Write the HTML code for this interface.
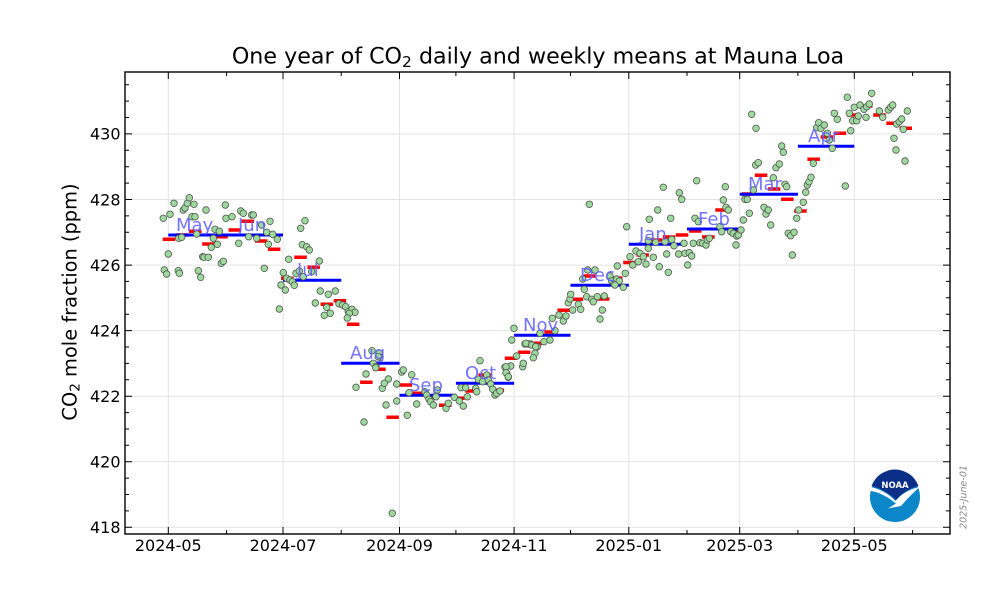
<!DOCTYPE html>
<html><head><meta charset="utf-8"><style>
html,body{margin:0;padding:0;background:#fff;}
svg{display:block;font-family:"DejaVu Sans","Liberation Sans",sans-serif;}
</style></head><body>
<svg width="1000" height="600" viewBox="0 0 1000 600" xmlns="http://www.w3.org/2000/svg">
<rect width="1000" height="600" fill="#fff"/>
<!-- grid -->
<g stroke="#e3e3e3" stroke-width="1">
<path d="M168.3,72V534M283,72V534M399.5,72V534M514.1,72V534M628.8,72V534M739.7,72V534M854.3,72V534"/>
<path d="M125,527.3H950M125,461.7H950M125,396.2H950M125,330.6H950M125,265.1H950M125,199.5H950M125,133.9H950"/>
</g>
<!-- weekly red -->
<g stroke="#ff0000" stroke-width="3.5">
<path d="M162.7,239.3h12.5M175.9,235h12.5M189,231.3h12.5M202.2,244h12.5M215.3,236.7h12.5M228.5,230h12.5M241.6,221.3h12.5M254.8,241h12.5M267.9,249.3h12.5M281.1,278.3h12.5M294.3,257.3h12.5M307.4,267.3h12.5M320.6,304.3h12.5M333.7,300.7h12.5M346.9,324.3h12.5M360.1,382.3h12.5M373.2,369.3h12.5M386.4,417.3h12.5M399.5,385h12.5M412.7,393.3h12.5M425.8,397.5h12.5M439,405.3h12.5M452.2,398.3h12.5M465.3,391h12.5M478.5,375h12.5M491.6,390.3h12.5M504.8,358.3h12.5M517.9,352.3h12.5M531.1,343.3h12.5M544.3,332h12.5M557.4,310.3h12.5M570.6,299.3h12.5M583.7,276h12.5M596.9,299h12.5M610,278h12.5M623.2,262.5h12.5M636.4,255h12.5M649.5,240h12.5M662.7,237h12.5M675.8,235h12.5M689,231h12.5M702.1,237h12.5M715.3,210h12.5M728.5,232h12.5M741.6,194h12.5M754.8,175.3h12.5M767.9,189h12.5M781.1,199.3h12.5M794.2,211h12.5M807.4,159.3h12.5M820.6,137h12.5M833.7,133.3h12.5M846.9,115h12.5M860,106h12.5M873.2,115h12.5M886.3,123.3h12.5M899.5,128.3h12.5"/>
</g>
<!-- monthly blue -->
<g stroke="#0000ff" stroke-width="3">
<path d="M168.3,235H226.6M226.6,235H283M283,280.3H341.2M341.2,363.3H399.5M399.5,395.3H455.9M455.9,383.3H514.1M514.1,335.3H570.5M570.5,285.3H628.8M628.8,244.3H687M687,229H739.7M739.7,194.2H797.9M797.9,146.3H854.3"/>
</g>
<!-- daily points -->
<g fill="#9fd89f" stroke="#505850" stroke-width="0.8">
<circle cx="163.3" cy="218.3" r="3.3"/><circle cx="170" cy="214.3" r="3.3"/><circle cx="174" cy="203.3" r="3.3"/><circle cx="168.3" cy="254" r="3.3"/><circle cx="164.3" cy="270" r="3.3"/><circle cx="166.7" cy="274" r="3.3"/><circle cx="178.7" cy="238.3" r="3.3"/><circle cx="178.3" cy="270.7" r="3.3"/><circle cx="179.3" cy="273.3" r="3.3"/><circle cx="181.7" cy="237.3" r="3.3"/><circle cx="183.3" cy="210" r="3.3"/><circle cx="185" cy="208" r="3.3"/><circle cx="187.3" cy="203.3" r="3.3"/><circle cx="189.3" cy="197.7" r="3.3"/><circle cx="192" cy="216.7" r="3.3"/><circle cx="194" cy="204.3" r="3.3"/><circle cx="195" cy="216.7" r="3.3"/><circle cx="196.7" cy="234" r="3.3"/><circle cx="198.3" cy="270.7" r="3.3"/><circle cx="200.7" cy="277.3" r="3.3"/><circle cx="202.7" cy="256.7" r="3.3"/><circle cx="204" cy="257.3" r="3.3"/><circle cx="206" cy="210" r="3.3"/><circle cx="208.3" cy="257.3" r="3.3"/><circle cx="211.3" cy="247.3" r="3.3"/><circle cx="213.3" cy="238.3" r="3.3"/><circle cx="215" cy="229.3" r="3.3"/><circle cx="217.3" cy="244.3" r="3.3"/><circle cx="219.3" cy="231.3" r="3.3"/><circle cx="221.3" cy="263.3" r="3.3"/><circle cx="223.3" cy="261.3" r="3.3"/><circle cx="225.3" cy="205" r="3.3"/><circle cx="226" cy="218.3" r="3.3"/><circle cx="232" cy="216.7" r="3.3"/><circle cx="238.7" cy="243.3" r="3.3"/><circle cx="240.7" cy="211" r="3.3"/><circle cx="243.3" cy="213.3" r="3.3"/><circle cx="248.7" cy="236.7" r="3.3"/><circle cx="251.7" cy="215" r="3.3"/><circle cx="253.3" cy="215" r="3.3"/><circle cx="256.7" cy="238.3" r="3.3"/><circle cx="261.7" cy="225" r="3.3"/>
<circle cx="270" cy="221.3" r="3.3"/><circle cx="300.7" cy="228.3" r="3.3"/><circle cx="305" cy="220.7" r="3.3"/><circle cx="266.7" cy="232.3" r="3.3"/><circle cx="272.7" cy="234.3" r="3.3"/><circle cx="277.3" cy="239.3" r="3.3"/><circle cx="268.3" cy="244.3" r="3.3"/><circle cx="302.3" cy="244.7" r="3.3"/><circle cx="306.7" cy="246.7" r="3.3"/><circle cx="309.3" cy="250" r="3.3"/><circle cx="288.7" cy="259.3" r="3.3"/><circle cx="319.3" cy="261" r="3.3"/><circle cx="264.3" cy="268.3" r="3.3"/><circle cx="283.3" cy="272.7" r="3.3"/><circle cx="296" cy="273.3" r="3.3"/><circle cx="299.3" cy="271" r="3.3"/><circle cx="311.7" cy="271.7" r="3.3"/><circle cx="303.3" cy="276.7" r="3.3"/><circle cx="286.7" cy="278.3" r="3.3"/><circle cx="290" cy="280" r="3.3"/><circle cx="292.3" cy="281.7" r="3.3"/><circle cx="281" cy="285" r="3.3"/><circle cx="294.3" cy="285.3" r="3.3"/><circle cx="285.3" cy="290" r="3.3"/><circle cx="320.3" cy="291" r="3.3"/><circle cx="328.3" cy="294.3" r="3.3"/><circle cx="335.3" cy="291" r="3.3"/><circle cx="279.3" cy="309" r="3.3"/><circle cx="315.3" cy="303" r="3.3"/><circle cx="326.7" cy="307.3" r="3.3"/><circle cx="324.3" cy="315.3" r="3.3"/><circle cx="330.3" cy="313.3" r="3.3"/><circle cx="339" cy="303.7" r="3.3"/><circle cx="342.7" cy="305" r="3.3"/><circle cx="345.7" cy="306.7" r="3.3"/><circle cx="348.3" cy="311.7" r="3.3"/><circle cx="352" cy="309.3" r="3.3"/><circle cx="355" cy="312.3" r="3.3"/><circle cx="349.3" cy="313.3" r="3.3"/><circle cx="347.3" cy="318" r="3.3"/><circle cx="372" cy="350.7" r="3.3"/><circle cx="379.3" cy="353.3" r="3.3"/><circle cx="380" cy="357.3" r="3.3"/><circle cx="373.3" cy="363.3" r="3.3"/><circle cx="376" cy="366.7" r="3.3"/><circle cx="366" cy="374" r="3.3"/><circle cx="388.3" cy="379" r="3.3"/><circle cx="401.7" cy="372" r="3.3"/><circle cx="403.3" cy="370" r="3.3"/><circle cx="411.7" cy="374.7" r="3.3"/>
<circle cx="356" cy="387.3" r="3.3"/><circle cx="364" cy="422" r="3.3"/><circle cx="378.3" cy="356.7" r="3.3"/><circle cx="375.7" cy="367.7" r="3.3"/><circle cx="382.3" cy="388.3" r="3.3"/><circle cx="384.3" cy="383.3" r="3.3"/><circle cx="396.7" cy="384" r="3.3"/><circle cx="386" cy="405" r="3.3"/><circle cx="396.7" cy="401" r="3.3"/><circle cx="392.3" cy="513.3" r="3.3"/><circle cx="409" cy="392.7" r="3.3"/><circle cx="407.3" cy="415.3" r="3.3"/><circle cx="416.7" cy="404" r="3.3"/><circle cx="425" cy="391.7" r="3.3"/><circle cx="426.7" cy="395" r="3.3"/><circle cx="429" cy="399.3" r="3.3"/><circle cx="430.7" cy="401.7" r="3.3"/><circle cx="433.3" cy="405" r="3.3"/><circle cx="436" cy="396.7" r="3.3"/><circle cx="437.3" cy="390" r="3.3"/><circle cx="446" cy="408.3" r="3.3"/><circle cx="448.3" cy="403.3" r="3.3"/><circle cx="454.3" cy="397.3" r="3.3"/><circle cx="459.3" cy="401" r="3.3"/><circle cx="463.3" cy="406" r="3.3"/><circle cx="461" cy="387.7" r="3.3"/><circle cx="465.7" cy="387.7" r="3.3"/><circle cx="467.3" cy="396.7" r="3.3"/><circle cx="475.7" cy="388.3" r="3.3"/><circle cx="476.7" cy="391.7" r="3.3"/><circle cx="480" cy="360.7" r="3.3"/><circle cx="478.3" cy="379.3" r="3.3"/><circle cx="482.7" cy="381.7" r="3.3"/><circle cx="486.7" cy="375" r="3.3"/><circle cx="488.3" cy="380" r="3.3"/><circle cx="490.7" cy="384" r="3.3"/><circle cx="492.7" cy="389.3" r="3.3"/><circle cx="495" cy="395" r="3.3"/><circle cx="496.7" cy="393.3" r="3.3"/><circle cx="500" cy="391" r="3.3"/><circle cx="505" cy="367.3" r="3.3"/><circle cx="506.7" cy="373.3" r="3.3"/><circle cx="508.3" cy="377.3" r="3.3"/><circle cx="510.7" cy="366" r="3.3"/><circle cx="511.7" cy="340" r="3.3"/><circle cx="514" cy="328.3" r="3.3"/><circle cx="516.7" cy="356" r="3.3"/><circle cx="522.7" cy="366.7" r="3.3"/><circle cx="523.3" cy="363.3" r="3.3"/><circle cx="525" cy="344" r="3.3"/><circle cx="528.3" cy="344" r="3.3"/><circle cx="530.7" cy="344" r="3.3"/><circle cx="535" cy="353.3" r="3.3"/><circle cx="537.3" cy="346.7" r="3.3"/><circle cx="540" cy="333.3" r="3.3"/><circle cx="544" cy="341.7" r="3.3"/>
<circle cx="589.3" cy="204.3" r="3.3"/><circle cx="506" cy="366.7" r="3.3"/><circle cx="506" cy="372.7" r="3.3"/><circle cx="508.3" cy="376.7" r="3.3"/><circle cx="526" cy="343.3" r="3.3"/><circle cx="531.7" cy="345" r="3.3"/><circle cx="535.7" cy="346.7" r="3.3"/><circle cx="533.3" cy="357.7" r="3.3"/><circle cx="550" cy="340" r="3.3"/><circle cx="552.3" cy="318.3" r="3.3"/><circle cx="555" cy="330.7" r="3.3"/><circle cx="559" cy="315" r="3.3"/><circle cx="563.3" cy="321" r="3.3"/><circle cx="566" cy="316" r="3.3"/><circle cx="568.3" cy="302.7" r="3.3"/><circle cx="570" cy="299" r="3.3"/><circle cx="570.7" cy="294.3" r="3.3"/><circle cx="572.7" cy="310" r="3.3"/><circle cx="578.3" cy="304.3" r="3.3"/><circle cx="580.7" cy="309.3" r="3.3"/><circle cx="584.3" cy="289.3" r="3.3"/><circle cx="586.7" cy="296.7" r="3.3"/><circle cx="591.7" cy="299.3" r="3.3"/><circle cx="593.3" cy="301.7" r="3.3"/><circle cx="597.3" cy="296.7" r="3.3"/><circle cx="604.3" cy="296" r="3.3"/><circle cx="602.3" cy="310" r="3.3"/><circle cx="600" cy="319" r="3.3"/><circle cx="582.7" cy="279" r="3.3"/><circle cx="587.7" cy="270" r="3.3"/><circle cx="595" cy="270" r="3.3"/><circle cx="610" cy="276" r="3.3"/><circle cx="611.7" cy="281" r="3.3"/><circle cx="614" cy="284" r="3.3"/><circle cx="616.7" cy="279" r="3.3"/><circle cx="619.3" cy="281" r="3.3"/><circle cx="623.3" cy="287.3" r="3.3"/><circle cx="615" cy="285" r="3.3"/><circle cx="617.3" cy="266" r="3.3"/><circle cx="625.3" cy="273.3" r="3.3"/><circle cx="626.7" cy="226.7" r="3.3"/>
<circle cx="630" cy="256.7" r="3.3"/><circle cx="632.7" cy="265" r="3.3"/><circle cx="636" cy="251" r="3.3"/><circle cx="638.3" cy="261.7" r="3.3"/><circle cx="640" cy="253.3" r="3.3"/><circle cx="643.3" cy="256.7" r="3.3"/><circle cx="646" cy="264" r="3.3"/><circle cx="648.3" cy="248.3" r="3.3"/><circle cx="648.3" cy="240.7" r="3.3"/><circle cx="655.7" cy="242.3" r="3.3"/><circle cx="649.3" cy="219.3" r="3.3"/><circle cx="653.3" cy="257.3" r="3.3"/><circle cx="657.7" cy="210" r="3.3"/><circle cx="659.3" cy="266.7" r="3.3"/><circle cx="663.3" cy="187.3" r="3.3"/><circle cx="665" cy="241.7" r="3.3"/><circle cx="666.7" cy="254" r="3.3"/><circle cx="668.3" cy="272.3" r="3.3"/><circle cx="670.7" cy="218.3" r="3.3"/><circle cx="671.7" cy="239.3" r="3.3"/><circle cx="674" cy="245.7" r="3.3"/><circle cx="678.7" cy="254" r="3.3"/><circle cx="679.3" cy="192.7" r="3.3"/><circle cx="681.7" cy="199.3" r="3.3"/><circle cx="684" cy="243.3" r="3.3"/><circle cx="685" cy="253.3" r="3.3"/><circle cx="687.7" cy="265" r="3.3"/><circle cx="689.3" cy="252.7" r="3.3"/><circle cx="691.7" cy="256" r="3.3"/><circle cx="693.3" cy="243.3" r="3.3"/><circle cx="695" cy="218.3" r="3.3"/><circle cx="696.7" cy="180.7" r="3.3"/><circle cx="698.3" cy="221.7" r="3.3"/><circle cx="700" cy="242.7" r="3.3"/><circle cx="702.7" cy="243.3" r="3.3"/><circle cx="706" cy="245" r="3.3"/><circle cx="707.3" cy="240" r="3.3"/><circle cx="709.3" cy="238.3" r="3.3"/><circle cx="720" cy="226.7" r="3.3"/><circle cx="721.7" cy="231.7" r="3.3"/><circle cx="723.3" cy="200" r="3.3"/><circle cx="725.3" cy="186.7" r="3.3"/><circle cx="726" cy="207.3" r="3.3"/><circle cx="728.3" cy="210" r="3.3"/><circle cx="730.7" cy="231.7" r="3.3"/><circle cx="733.3" cy="233.3" r="3.3"/><circle cx="736" cy="245" r="3.3"/><circle cx="736.7" cy="236" r="3.3"/><circle cx="738.3" cy="235" r="3.3"/><circle cx="741" cy="230" r="3.3"/><circle cx="743.3" cy="220" r="3.3"/><circle cx="745" cy="199.3" r="3.3"/><circle cx="747.3" cy="199.3" r="3.3"/><circle cx="749.3" cy="213.3" r="3.3"/><circle cx="753.3" cy="190" r="3.3"/><circle cx="755.7" cy="165" r="3.3"/><circle cx="758.3" cy="162.7" r="3.3"/><circle cx="756" cy="128.3" r="3.3"/><circle cx="764" cy="207.3" r="3.3"/><circle cx="766" cy="214" r="3.3"/><circle cx="768.3" cy="210" r="3.3"/><circle cx="770.7" cy="225" r="3.3"/><circle cx="773.3" cy="177.7" r="3.3"/><circle cx="776" cy="167.7" r="3.3"/><circle cx="779.3" cy="164" r="3.3"/><circle cx="781.7" cy="146" r="3.3"/><circle cx="783.3" cy="152.3" r="3.3"/><circle cx="785" cy="184.3" r="3.3"/><circle cx="786.7" cy="186.7" r="3.3"/><circle cx="788.3" cy="233.3" r="3.3"/>
<circle cx="751.7" cy="114.3" r="3.3"/><circle cx="790.7" cy="235.7" r="3.3"/><circle cx="794" cy="232.3" r="3.3"/><circle cx="792.3" cy="255" r="3.3"/><circle cx="796.7" cy="218.3" r="3.3"/><circle cx="798.7" cy="210" r="3.3"/><circle cx="803.3" cy="202.3" r="3.3"/><circle cx="805.7" cy="192.3" r="3.3"/><circle cx="807.3" cy="185" r="3.3"/><circle cx="809" cy="181.7" r="3.3"/><circle cx="811" cy="177.3" r="3.3"/><circle cx="813.3" cy="163.3" r="3.3"/><circle cx="816.7" cy="127.7" r="3.3"/><circle cx="818.7" cy="122.7" r="3.3"/><circle cx="821" cy="128.3" r="3.3"/><circle cx="824.3" cy="125" r="3.3"/><circle cx="827.3" cy="133.3" r="3.3"/><circle cx="829.3" cy="140" r="3.3"/><circle cx="832.3" cy="148.3" r="3.3"/><circle cx="834.3" cy="113.3" r="3.3"/><circle cx="837.3" cy="119.3" r="3.3"/><circle cx="845.3" cy="186" r="3.3"/><circle cx="847.3" cy="97.3" r="3.3"/><circle cx="849.3" cy="113.3" r="3.3"/><circle cx="850.7" cy="130.7" r="3.3"/><circle cx="852.7" cy="120.7" r="3.3"/><circle cx="854.3" cy="107.3" r="3.3"/><circle cx="856.7" cy="120.7" r="3.3"/><circle cx="858.3" cy="116" r="3.3"/><circle cx="860" cy="105" r="3.3"/><circle cx="864" cy="109.3" r="3.3"/><circle cx="866.7" cy="106.7" r="3.3"/><circle cx="869.3" cy="104" r="3.3"/><circle cx="866" cy="117.3" r="3.3"/><circle cx="871.7" cy="93.3" r="3.3"/><circle cx="879.3" cy="111" r="3.3"/><circle cx="882.7" cy="117.3" r="3.3"/><circle cx="888.3" cy="110" r="3.3"/><circle cx="890.7" cy="107.3" r="3.3"/><circle cx="892.7" cy="105" r="3.3"/><circle cx="896.7" cy="124" r="3.3"/><circle cx="899.3" cy="121.7" r="3.3"/><circle cx="901.7" cy="119" r="3.3"/><circle cx="903.3" cy="129.3" r="3.3"/><circle cx="907.3" cy="111" r="3.3"/><circle cx="894" cy="138.3" r="3.3"/><circle cx="896" cy="150" r="3.3"/><circle cx="905" cy="161" r="3.3"/>
</g>
<!-- month labels -->
<g fill="#6464ff" font-size="18" opacity="0.9">
<text x="176" y="231">May</text><text x="238" y="231">Jun</text><text x="297" y="276">Jul</text><text x="350" y="359">Aug</text><text x="409" y="391">Sep</text><text x="465" y="379">Oct</text><text x="523" y="331">Nov</text><text x="580" y="281">Dec</text><text x="639" y="240">Jan</text><text x="698" y="225">Feb</text><text x="748" y="190">Mar</text><text x="808" y="142">Apr</text>
</g>
<!-- ticks -->
<g stroke="#000" stroke-width="1" fill="none">
<path d="M168.3,534v-7M283,534v-7M399.5,534v-7M514.1,534v-7M628.8,534v-7M739.7,534v-7M854.3,534v-7M168.3,72v7M283,72v7M399.5,72v7M514.1,72v7M628.8,72v7M739.7,72v7M854.3,72v7"/>
<path d="M226.6,534v-4M341.2,534v-4M455.9,534v-4M570.5,534v-4M687,534v-4M797.9,534v-4M912.6,534v-4M226.6,72v4M341.2,72v4M455.9,72v4M570.5,72v4M687,72v4M797.9,72v4M912.6,72v4"/>
<path d="M125,527.3h7M125,461.7h7M125,396.2h7M125,330.6h7M125,265.1h7M125,199.5h7M125,133.9h7M950,527.3h-7M950,461.7h-7M950,396.2h-7M950,330.6h-7M950,265.1h-7M950,199.5h-7M950,133.9h-7"/>
<path d="M125,510.9h4M125,494.5h4M125,478.1h4M125,445.3h4M125,429h4M125,412.6h4M125,379.8h4M125,363.4h4M125,347h4M125,314.2h4M125,297.8h4M125,281.4h4M125,248.7h4M125,232.3h4M125,215.9h4M125,183.1h4M125,166.7h4M125,150.3h4M125,117.5h4M125,101.1h4M125,84.8h4M950,510.9h-4M950,494.5h-4M950,478.1h-4M950,445.3h-4M950,429h-4M950,412.6h-4M950,379.8h-4M950,363.4h-4M950,347h-4M950,314.2h-4M950,297.8h-4M950,281.4h-4M950,248.7h-4M950,232.3h-4M950,215.9h-4M950,183.1h-4M950,166.7h-4M950,150.3h-4M950,117.5h-4M950,101.1h-4M950,84.8h-4"/>
</g>
<!-- frame -->
<rect x="125" y="72" width="825" height="462" fill="none" stroke="#000" stroke-width="1.4"/>
<!-- tick labels -->
<g fill="#000" font-size="16" text-anchor="end">
<text x="120.5" y="533.1">418</text><text x="120.5" y="467.5">420</text><text x="120.5" y="402">422</text><text x="120.5" y="336.4">424</text><text x="120.5" y="270.9">426</text><text x="120.5" y="205.3">428</text><text x="120.5" y="139.7">430</text>
</g>
<g fill="#000" font-size="16" text-anchor="middle">
<text x="168.3" y="551">2024-05</text><text x="283" y="551">2024-07</text><text x="399.5" y="551">2024-09</text><text x="514.1" y="551">2024-11</text><text x="628.8" y="551">2025-01</text><text x="739.7" y="551">2025-03</text><text x="854.3" y="551">2025-05</text>
</g>
<!-- title -->
<text x="538" y="63.5" font-size="22.2" text-anchor="middle" fill="#000">One year of CO<tspan font-size="15.5" dy="3.4">2</tspan><tspan dy="-3.4"> daily and weekly means at Mauna Loa</tspan></text>
<!-- y label -->
<text transform="translate(76.5,302) rotate(-90)" font-size="19.4" text-anchor="middle" fill="#000">CO<tspan font-size="13.6" dy="3">2</tspan><tspan dy="-3"> mole fraction (ppm)</tspan></text>
<!-- date -->
<text transform="translate(966.3,497) rotate(-90)" font-size="9.5" font-style="italic" text-anchor="middle" fill="#8a8a8a">2025-June-01</text>
<!-- NOAA logo -->
<g>
<circle cx="895" cy="497" r="25" fill="#0a86c9"/>
<path d="M871.5,486 A25,25 0 0 1 918.5,486 C910,488 902,493 896,500 C889,493 880,488 871.5,486 Z" fill="#0b2f87"/>
<path d="M870.5,487 C880,489 889,494 895.5,501 C901,494 910,489 919.5,487 C913,493 906,500 901,506 L888,508.5 L896,503.5 C888,497 879,492 870.8,491 Z" fill="#fff"/>
<text x="895" y="488" font-size="8.5" font-weight="bold" fill="#fff" text-anchor="middle">NOAA</text>
</g>
</svg>
</body></html>
